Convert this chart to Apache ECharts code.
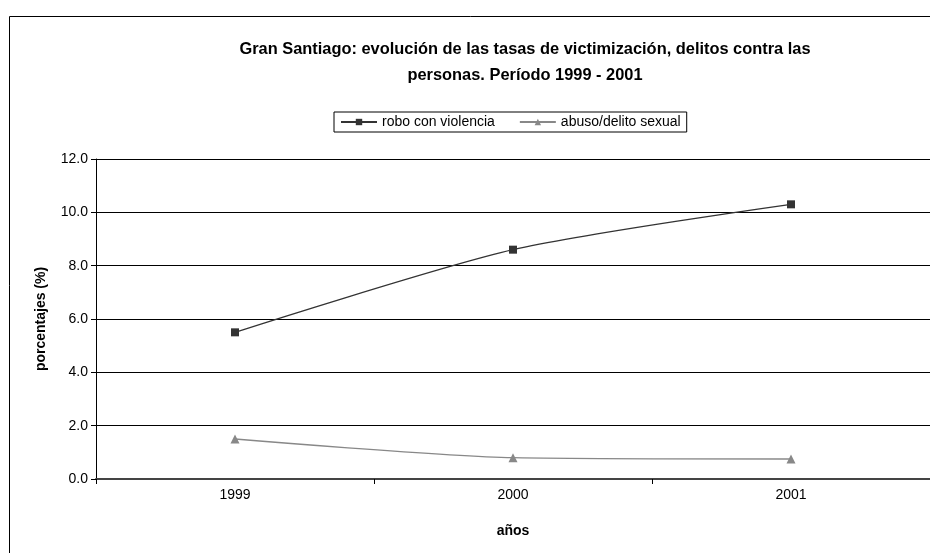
<!DOCTYPE html>
<html>
<head>
<meta charset="utf-8">
<script src="https://cdn.jsdelivr.net/npm/echarts@6/dist/echarts.min.js"></script>
<style>
  html, body { margin: 0; padding: 0; background: #fff; }
  #chart { width: 930px; height: 553px; }
</style>
</head>
<body>
<div id="chart"></div>
<script>
var years = ['1999', '2000', '2001'];
var robo = [5.5, 8.6, 10.3];
var abuso = [1.5, 0.8, 0.75];
var seriesNames = ['robo con violencia', 'abuso/delito sexual'];

var chart = echarts.init(document.getElementById('chart'));
var font = 'Arial, "Liberation Sans", sans-serif';

var option = {
  animation: false,
  backgroundColor: '#fff',
  textStyle: { fontFamily: font },
  title: {
    text: 'Gran Santiago: evolución de las tasas de victimización, delitos contra las\npersonas. Período 1999 - 2001',
    left: 520,
    top: 31,
    textAlign: 'center',
    textStyle: { fontSize: 16.4, fontWeight: 'bold', color: '#000', lineHeight: 26, fontFamily: font }
  },
  legend: {
    left: 334,
    top: 112,
    padding: [3, 6],
    itemGap: 24,
    itemWidth: 36,
    itemHeight: 8,
    borderColor: '#000',
    borderWidth: 1,
    borderRadius: 0,
    textStyle: { fontSize: 14, color: '#000', fontFamily: font },
    data: seriesNames
  },
  graphic: [{
    type: 'rect',
    left: 7,
    top: 14,
    silent: true,
    shape: { width: 1000, height: 1000 },
    style: { fill: 'none', stroke: '#000', lineWidth: 1 }
  }],
  grid: {
    left: 96,
    top: 159,
    width: 837,
    height: 320,
    containLabel: false
  },
  xAxis: {
    type: 'category',
    data: years,
    boundaryGap: true,
    name: 'años',
    nameLocation: 'middle',
    nameGap: 45,
    nameTextStyle: { fontSize: 14, fontWeight: 'bold', color: '#000' },
    axisLine: { lineStyle: { color: '#444', width: 2 } },
    axisTick: { show: true, inside: false, length: 5, lineStyle: { color: '#000' } },
    axisLabel: { fontSize: 14, color: '#000', margin: 9 },
    splitLine: { show: false }
  },
  yAxis: {
    type: 'value',
    min: 0,
    max: 12,
    interval: 2,
    name: 'porcentajes (%)',
    nameLocation: 'middle',
    nameGap: 48,
    nameTextStyle: { fontSize: 14, fontWeight: 'bold', color: '#000' },
    axisLine: { show: true, lineStyle: { color: '#000', width: 1 } },
    axisTick: { show: true, length: 5, lineStyle: { color: '#000' } },
    axisLabel: {
      fontSize: 14,
      color: '#000',
      margin: 8,
      formatter: function (v) { return v.toFixed(1); }
    },
    splitLine: { show: true, lineStyle: { color: '#000', width: 1 } }
  },
  series: [{
    name: seriesNames[0],
    type: 'line',
    data: robo,
    smooth: 0.25,
    symbol: 'rect',
    symbolSize: 8,
    lineStyle: { color: '#333', width: 1.3 },
    itemStyle: { color: '#333' }
  }, {
    name: seriesNames[1],
    type: 'line',
    data: abuso,
    smooth: 0.25,
    symbol: 'triangle',
    symbolSize: 9,
    lineStyle: { color: '#888', width: 1.3 },
    itemStyle: { color: '#888' }
  }]
};
chart.setOption(option);
</script>
</body>
</html>
